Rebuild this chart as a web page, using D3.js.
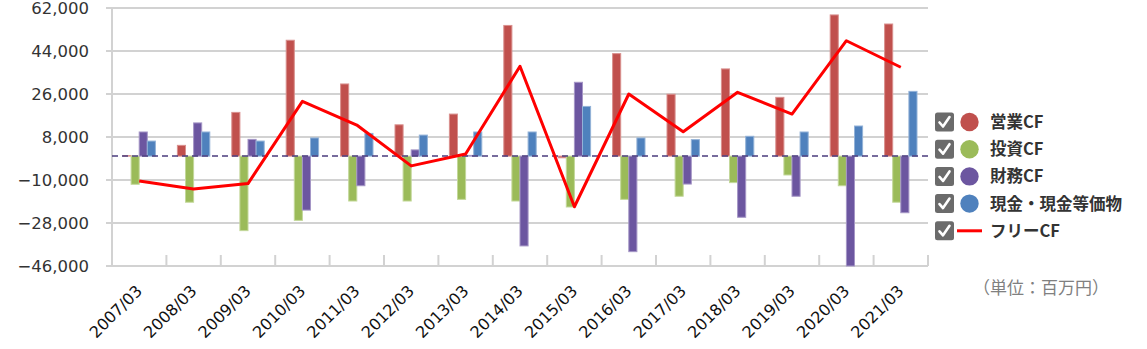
<!DOCTYPE html>
<html>
<head>
<meta charset="utf-8">
<script src="https://cdn.jsdelivr.net/npm/d3@7"></script>
<style>
  html, body { margin: 0; padding: 0; background: #fff; }
  svg { display: block; }
</style>
</head>
<body>
<svg id="chart" width="1147" height="349"></svg>
<script>
// Fiscal years (March year-end)
const years = ["2007/03","2008/03","2009/03","2010/03","2011/03","2012/03","2013/03","2014/03",
               "2015/03","2016/03","2017/03","2018/03","2019/03","2020/03","2021/03"];

// Cash-flow series, millions of yen
const operatingCF = [200, 4500, 18300, 48500, 30200, 13100, 17600, 54700, -700, 42900, 25900, 36500, 24600, 59100, 55300];
const investingCF = [-11800, -19300, -31200, -26900, -18800, -18800, -18100, -18800, -21300, -18100, -16800, -11100, -7900, -12400, -19300];
const financingCF = [10100, 13900, 7000, -22600, -12400, 2600, 300, -37600, 30900, -40000, -11700, -25600, -16800, -46000, -23700];
const cashEquiv   = [6300, 10100, 6300, 7600, 9500, 8800, 10100, 10100, 20800, 7600, 6900, 8300, 10100, 12600, 27100];
const freeCF      = [-10400, -13800, -11500, 22900, 13000, -4100, 900, 37600, -21200, 26000, 10200, 26700, 17600, 48300, 37200];

const yTicks = [62000, 44000, 26000, 8000, -10000, -28000, -46000];

const barSeries = [
  { name: "営業CF", values: operatingCF, color: "#C0504D", edge: "#D9908E" },
  { name: "投資CF", values: investingCF, color: "#9BBB59", edge: "#C3D89A" },
  { name: "財務CF", values: financingCF, color: "#6C56A0", edge: "#A596C6" },
  { name: "現金・現金等価物", values: cashEquiv, color: "#4F81BD", edge: "#93B2D8" }
];
const lineSeries = { name: "フリーCF", values: freeCF, color: "#FF0000" };

const svg = d3.select("#chart");
const plot = { left: 112, right: 928, top: 8, bottom: 266 };

const x = d3.scaleBand().domain(years).range([plot.left, plot.right]).padding(0);
const y = d3.scaleLinear().domain([-46000, 62000]).range([plot.bottom, plot.top]);

const groupW = 32.4;
const xInner = d3.scaleBand()
  .domain(barSeries.map(s => s.name))
  .range([(x.bandwidth() - groupW) / 2, (x.bandwidth() + groupW) / 2])
  .padding(0);

const gridColor = "#D2D2D2";

// Horizontal gridlines with the value labels
const yAxis = d3.axisLeft(y).tickValues(yTicks).tickFormat(d3.format(",")).tickSize(0).tickPadding(17);
const gy = svg.append("g").attr("transform", `translate(${plot.left - 6},0)`).call(yAxis);
gy.select(".domain").remove();
gy.selectAll("text")
  .attr("fill", "#333")
  .style("font-family", "'DejaVu Sans', Verdana, sans-serif")
  .style("font-size", "16.5px");

svg.append("g").selectAll("line").data(yTicks).join("line")
  .attr("x1", plot.left - 6).attr("x2", plot.right)
  .attr("y1", d => y(d)).attr("y2", d => y(d))
  .attr("stroke", gridColor).attr("stroke-width", 2);

// Vertical axis line
svg.append("line")
  .attr("x1", plot.left).attr("x2", plot.left)
  .attr("y1", y(62000)).attr("y2", plot.bottom)
  .attr("stroke", gridColor).attr("stroke-width", 2);

// Category axis: short inward ticks at category boundaries
const bounds = years.map(d => x(d)).slice(1).concat([plot.right]);
svg.append("g").selectAll("line").data(bounds).join("line")
  .attr("x1", d => d).attr("x2", d => d)
  .attr("y1", plot.bottom - 11).attr("y2", plot.bottom)
  .attr("stroke", gridColor).attr("stroke-width", 2);

const xAxis = d3.axisBottom(x).tickSize(0).tickPadding(0);
const gx = svg.append("g").attr("transform", `translate(0,${plot.bottom})`).call(xAxis);
gx.select(".domain").remove();
gx.selectAll("text")
  .attr("fill", "#111")
  .attr("text-anchor", "end")
  .attr("dy", null)
  .attr("transform", "translate(4,26) rotate(-45)")
  .attr("y", 0)
  .style("font-family", "'DejaVu Sans', Verdana, sans-serif")
  .style("font-size", "16px");

// Bars
const bars = svg.append("g");
barSeries.forEach(s => {
  bars.append("g").selectAll("rect").data(s.values.map((v, i) => ({ v, year: years[i] }))).join("rect")
    .attr("x", d => x(d.year) + xInner(s.name))
    .attr("width", xInner.bandwidth())
    .attr("y", d => y(Math.max(0, d.v)))
    .attr("height", d => Math.abs(y(d.v) - y(0)))
    .attr("fill", s.color)
    .attr("stroke", s.edge)
    .attr("stroke-width", 1);
});

// Zero line
svg.append("line")
  .attr("x1", plot.left).attr("x2", plot.right)
  .attr("y1", y(0)).attr("y2", y(0))
  .attr("stroke", "#4B3C7E").attr("stroke-width", 1.5)
  .attr("stroke-dasharray", "6,4");

// Free cash flow line
const line = d3.line()
  .x((d, i) => x(years[i]) + x.bandwidth() / 2)
  .y(d => y(d));
svg.append("path")
  .datum(lineSeries.values)
  .attr("d", line)
  .attr("fill", "none")
  .attr("stroke", lineSeries.color)
  .attr("stroke-width", 3)
  .attr("stroke-linejoin", "round");

// Legend
const legendItems = barSeries.map(s => ({ name: s.name, color: s.color, type: "dot" }))
  .concat([{ name: lineSeries.name, color: lineSeries.color, type: "line" }]);
const legend = svg.append("g").attr("transform", "translate(935,122)");
const li = legend.selectAll("g").data(legendItems).join("g")
  .attr("transform", (d, i) => `translate(0,${i * 27.2})`);

li.append("rect")
  .attr("x", 0).attr("y", -9.5).attr("width", 19).attr("height", 19).attr("rx", 2.5)
  .attr("fill", "#6B6B6B");
li.append("path")
  .attr("d", "M4.5,0.5 L8,4.5 L14.5,-5")
  .attr("fill", "none").attr("stroke", "#fff").attr("stroke-width", 2.6)
  .attr("stroke-linecap", "round").attr("stroke-linejoin", "round");
li.filter(d => d.type === "dot").append("circle")
  .attr("cx", 34.5).attr("cy", 0).attr("r", 9.2).attr("fill", d => d.color);
li.filter(d => d.type === "line").append("line")
  .attr("x1", 22).attr("x2", 47).attr("y1", 0).attr("y2", 0)
  .attr("stroke", d => d.color).attr("stroke-width", 3);
li.append("text")
  .attr("x", 55).attr("y", 0).attr("dy", "0.36em")
  .attr("fill", "#333")
  .style("font-family", "'Noto Sans CJK JP', sans-serif")
  .style("font-weight", "bold")
  .style("font-size", "16.5px")
  .text(d => d.name);

// Unit note
svg.append("text")
  .attr("x", 973).attr("y", 288).attr("dy", "0.36em")
  .attr("fill", "#808080")
  .style("font-family", "'Noto Sans CJK JP', sans-serif")
  .style("font-size", "17px")
  .text("（単位：百万円）");
</script>
</body>
</html>
